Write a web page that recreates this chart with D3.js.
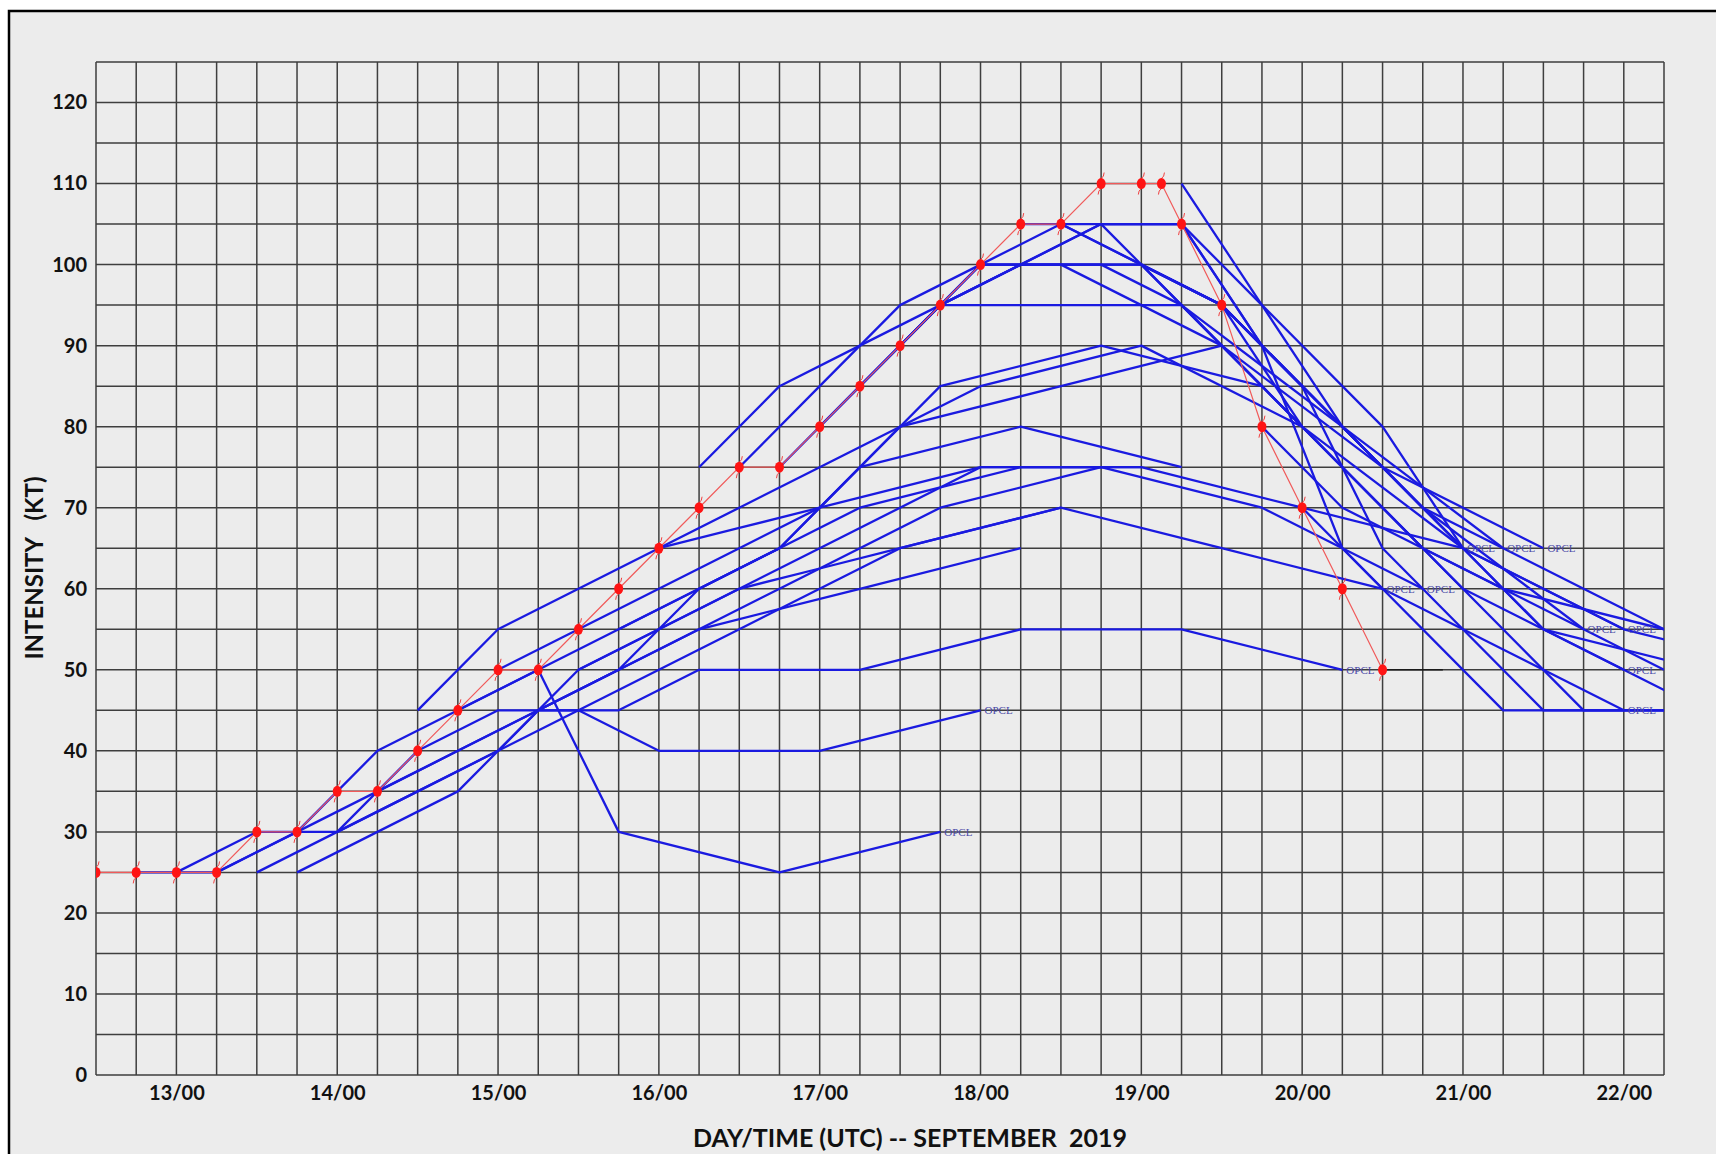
<!DOCTYPE html>
<html>
<head>
<meta charset="utf-8">
<script src="https://cdn.jsdelivr.net/npm/d3@7"></script>
<style>
  html, body { margin: 0; padding: 0; background: #fff; }
  svg { display: block; }
</style>
</head>
<body>
<svg id="chart"></svg>
<script>
// best track (red), times as DD/HH in Sept 2019
const bestTimes = ["12/12","12/18","13/00","13/06","13/12","13/18","14/00","14/06","14/12","14/18",
  "15/00","15/06","15/12","15/18","16/00","16/06","16/12","16/18","17/00","17/06","17/12","17/18",
  "18/00","18/06","18/12","18/18","19/00","19/03","19/06","19/12","19/18","20/00","20/06","20/12"]
const bestKt = [25,25,25,25,30,30,35,35,40,45,50,50,55,60,65,70,75,75,80,85,90,95,
  100,105,105,110,110,110,105,95,80,70,60,50]

// post-tropical bit after the last symbol
const extraTimes = ["20/12","20/21"]
const extraKt = [50,50]

// official forecasts (blue), lead hours shared by all
const fcstLead = [0,12,24,36,48,60,72,96,120]
const fcstStart = ["12/18","13/00","13/06","13/12","13/18","14/00","14/06","14/12","14/18","15/00",
  "15/06","15/12","15/18","16/00","16/06","16/12","16/18","17/00","17/06","17/12",
  "17/18","18/00","18/06","18/12","18/18","19/00","19/12","19/18","20/00"]
const fcstKt = [
  [25,25,30,40,45,50,30,25,30],
  [25,30,30,40,45,45,40,40,45],
  [25,30,35,40,45,50,55,60,65],
  [25,30,35,40,45,50,55,65,70],
  [25,30,35,45,50,55,60,70,75],
  [30,35,40,50,55,60,65,75,75],
  [35,40,45,50,60,65,75,80,75],
  [45,55,60,65,70,75,80,85,90],
  [45,50,55,60,65,75,85,90,85],
  [50,55,60,65,70,80,85,90,80],
  [45,45,50,50,50,52.5,55,55,50],
  [50,55,60,62.5,65,67.5,70,65,60],
  [55,60,65,70,72.5,75,75,70,60],
  [65,67.5,70,72.5,75,75,75,70,65],
  [75,85,90,95,95,95,95,80,65],
  [75,85,95,100,100,100,90,75,65],
  [75,85,95,100,105,105,90,70,55],
  [80,90,100,105,100,95,80,65,55],
  [85,95,100,105,105,90,65,45,45],
  [90,100,100,100,95,85,65,45,45],
  [95,100,100,95,85,75,65,45,45],
  [100,100,95,90,80,70,60,50],
  [105,105,95,85,75,65,60,55,50],
  [105,100,95,85,75,65,55,50,45],
  [105,105,95,80,70,65,60,50,45],
  [100,95,85,75,65,60,55,50],
  [95,85,75,65,55,50,45],
  [80,70,65,60,55,50],
  [70,60,55,50,45]
]
// which forecasts get the OPCL tag at their end
const fcstTagged = [1,1,0,0,0,0,0,0,0,0,1,1,1,1,1,1,1,1,0,0,0,1,0,0,0,0,0,0,1]

// one late forecast drawn with its own lead hours
const oddStart = "19/06"
const oddLead = [0,12,30,42]
const oddKt = [110,95,80,65]

const yTicks = [0,10,20,30,40,50,60,70,80,90,100,110,120]
const xTicks = ["13/00","14/00","15/00","16/00","17/00","18/00","19/00","20/00","21/00","22/00"]

const W = 1716, H = 1154
const m = { left: 96, right: 1664, top: 62, bottom: 1075 }
const parseT = d3.utcParse("%Y-%m-%d/%H")
const t = s => parseT("2019-09-" + s)

const svg = d3.select("#chart").attr("width", W).attr("height", H)

// outer frame
svg.append("rect")
  .attr("x", 9).attr("y", 11).attr("width", W + 20).attr("height", H + 20)
  .attr("fill", "#ececec").attr("stroke", "#000").attr("stroke-width", 2.5)

const x = d3.scaleUtc()
  .domain([t("12/12"), t("22/06")])
  .range([m.left, m.right])
const y = d3.scaleLinear()
  .domain([0, 125])
  .range([m.bottom, m.top])

svg.append("defs").append("clipPath").attr("id", "plot")
  .append("rect")
  .attr("x", m.left).attr("y", m.top)
  .attr("width", m.right - m.left).attr("height", m.bottom - m.top)

// grid
const grid = svg.append("g").attr("stroke", "#3e3e3e").attr("stroke-width", 1.5)
grid.selectAll("line.v")
  .data(d3.utcHour.every(6).range(t("12/12"), d3.utcHour.offset(t("22/06"), 1)))
  .join("line")
  .attr("x1", d => x(d)).attr("x2", d => x(d))
  .attr("y1", m.top).attr("y2", m.bottom)
grid.selectAll("line.h")
  .data(d3.range(0, 126, 5))
  .join("line")
  .attr("x1", m.left).attr("x2", m.right)
  .attr("y1", d => y(d)).attr("y2", d => y(d))

// axes
const fontFam = "Lato, 'Open Sans', sans-serif"
const xAxis = d3.axisBottom(x)
  .tickValues(xTicks.map(t))
  .tickFormat(d3.utcFormat("%d/%H"))
  .tickSize(0).tickPadding(11)
const yAxis = d3.axisLeft(y)
  .tickValues(yTicks)
  .tickSize(0).tickPadding(9)

svg.append("g")
  .attr("transform", `translate(0,${m.bottom})`)
  .call(xAxis)
  .call(g => g.select(".domain").remove())
  .selectAll("text")
  .style("font-family", fontFam).style("font-size", "20px").style("font-weight", "bold")
  .attr("fill", "#111")
svg.append("g")
  .attr("transform", `translate(${m.left},0)`)
  .call(yAxis)
  .call(g => g.select(".domain").remove())
  .selectAll("text")
  .style("font-family", fontFam).style("font-size", "20px").style("font-weight", "bold")
  .attr("fill", "#111")

svg.append("text")
  .attr("x", 910).attr("y", 1147)
  .attr("text-anchor", "middle")
  .style("font-family", fontFam).style("font-size", "25px").style("font-weight", "bold")
  .attr("fill", "#111")
  .attr("xml:space", "preserve")
  .text("DAY/TIME (UTC) -- SEPTEMBER  2019")
svg.append("text")
  .attr("transform", "translate(43,568) rotate(-90)")
  .attr("text-anchor", "middle")
  .style("font-family", fontFam).style("font-size", "24px").style("font-weight", "bold")
  .attr("fill", "#111")
  .attr("xml:space", "preserve")
  .text("INTENSITY   (KT)")

const plot = svg.append("g").attr("clip-path", "url(#plot)")
const line = d3.line().x(d => x(d[0])).y(d => y(d[1]))

// forecasts
const fcsts = fcstStart.map((s, k) =>
  fcstKt[k].map((v, j) => [d3.utcHour.offset(t(s), fcstLead[j]), v]))
const odd = oddKt.map((v, j) => [d3.utcHour.offset(t(oddStart), oddLead[j]), v])

plot.selectAll("path.fcst")
  .data(fcsts.concat([odd]))
  .join("path")
  .attr("class", "fcst")
  .attr("d", line)
  .attr("fill", "none")
  .attr("stroke", "#1a1ae0")
  .attr("stroke-width", 2.3)
  .attr("stroke-linejoin", "round")

plot.selectAll("text.tag")
  .data(fcsts.filter((f, k) => fcstTagged[k]))
  .join("text")
  .attr("class", "tag")
  .attr("x", f => x(f[f.length - 1][0]) + 4)
  .attr("y", f => y(f[f.length - 1][1]) + 4)
  .style("font-family", "'Liberation Serif', serif")
  .style("font-size", "11px")
  .attr("fill", "#4a4aa8")
  .text("OPCL")

// post-tropical and best track
const extra = extraTimes.map((s, k) => [t(s), extraKt[k]])
plot.append("path")
  .attr("d", line(extra))
  .attr("fill", "none").attr("stroke", "#111").attr("stroke-width", 1.2)

const best = bestTimes.map((s, k) => [t(s), bestKt[k]])
plot.append("path")
  .attr("d", line(best))
  .attr("fill", "none").attr("stroke", "#f05a5a").attr("stroke-width", 1.2)

const sym = plot.selectAll("g.tc")
  .data(best)
  .join("g")
  .attr("class", "tc")
  .attr("transform", d => `translate(${x(d[0])},${y(d[1])})`)
sym.append("path")
  .attr("d", "M0,-5 Q3,-7 3,-11 M0,5 Q-3,7 -3,11")
  .attr("fill", "none").attr("stroke", "#f04040").attr("stroke-width", 1)
sym.append("ellipse")
  .attr("rx", 4.5).attr("ry", 5.5)
  .attr("fill", "#ff1414")
</script>
</body>
</html>
